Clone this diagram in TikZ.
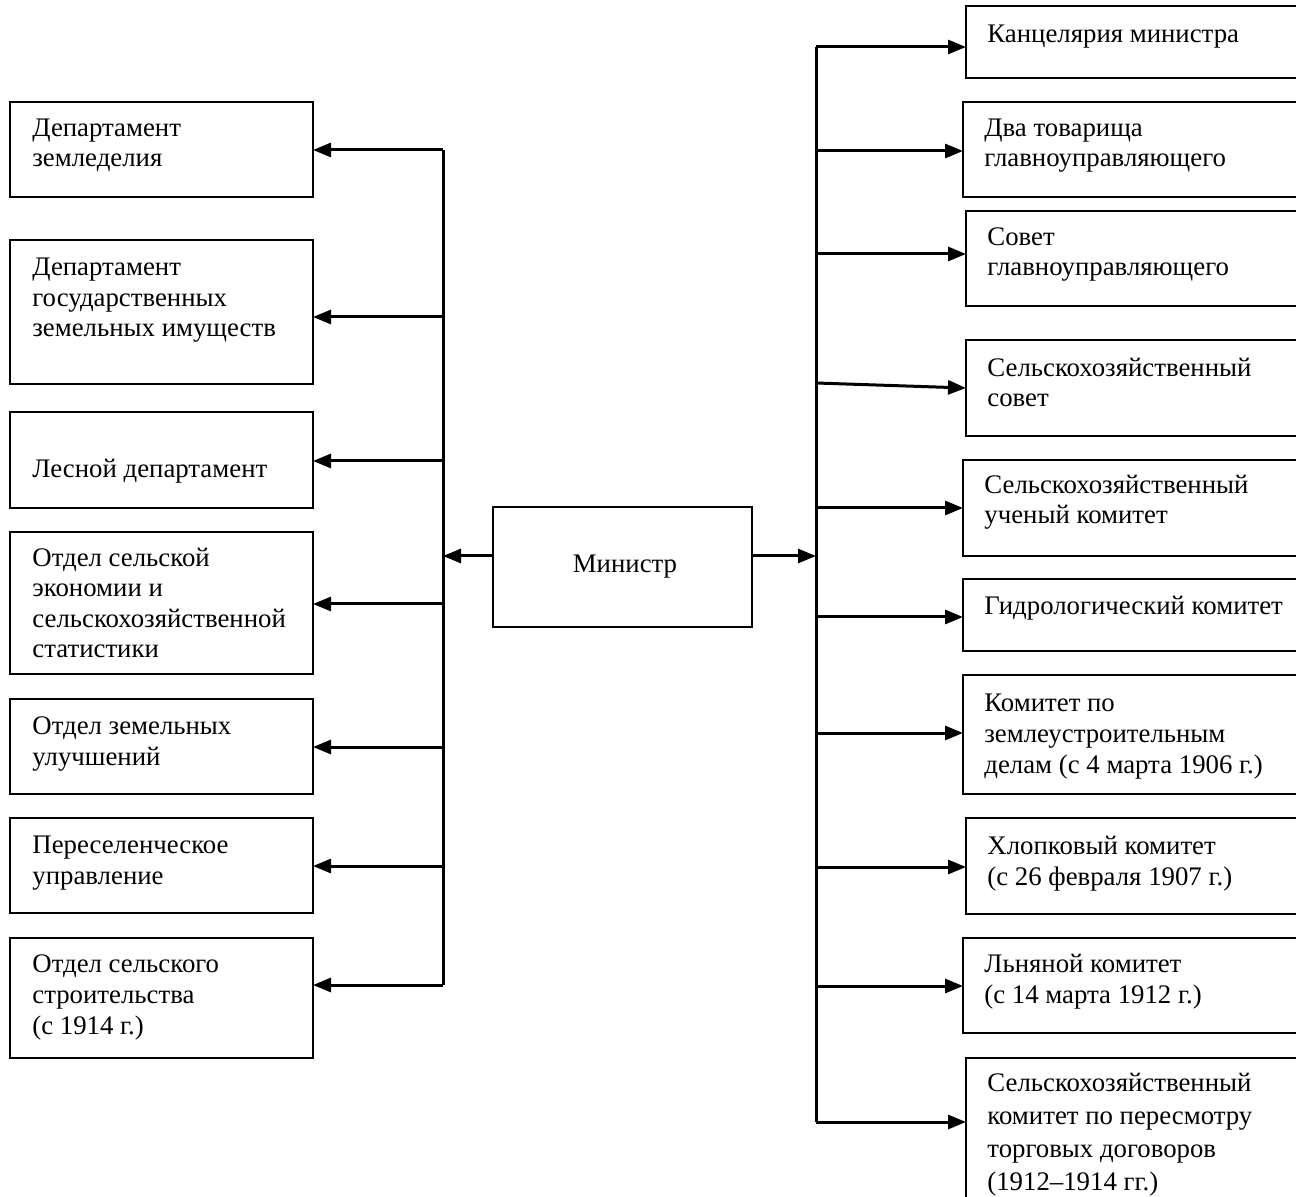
\documentclass[tikz,border=0pt]{standalone}
\usepackage{fontspec}
\setmainfont{Liberation Serif}
\usetikzlibrary{arrows.meta}
\newcommand\orgbox[5]{\node[boxst,anchor=north west,minimum width={(#4-#2)*0.5pt},minimum height={(#5-#3)*0.5pt}] (#1) at (#2,#3) {};}
\begin{document}
\begin{tikzpicture}[x=0.5pt,y=-0.5pt,
  boxst/.style={draw,line width=1.2pt,inner sep=0pt,outer sep=0pt},
  txt/.style={anchor=base west,inner sep=0pt,align=left,font=\fontsize{13.4}{15.3}\selectfont},
  bus/.style={line width=1.5pt},
  arr/.style={line width=1.5pt,-{Triangle[length=9pt,width=7pt]}}]
\useasboundingbox (0,0) rectangle (1296,1197);
\clip (0,0) rectangle (1296,1197);
% left boxes
\orgbox{L1}{10}{102}{313}{197}
\orgbox{L2}{10}{240}{313}{384}
\orgbox{L3}{10}{412}{313}{508}
\orgbox{L4}{10}{532}{313}{674}
\orgbox{L5}{10}{699}{313}{794}
\orgbox{L6}{10}{818}{313}{913}
\orgbox{L7}{10}{938}{313}{1058}
% text nodes: position = baseline of the last line
\node[txt] (tL1) at (32,167) {Департамент\\земледелия};
\node[txt] (tL2) at (32,337) {Департамент\\государственных\\земельных имуществ};
\node[txt] (tL3) at (32,478) {Лесной департамент};
\node[txt] (tL4) at (32,658) {Отдел сельской\\экономии и\\сельскохозяйственной\\статистики};
\node[txt] (tL5) at (32,765) {Отдел земельных\\улучшений};
\node[txt] (tL6) at (32,884) {Переселенческое\\управление};
\node[txt] (tL7) at (32,1034) {Отдел сельского\\строительства\\(с 1914 г.)};
% minister
\orgbox{M}{493}{507}{752}{627}
\node[txt,anchor=base] (tM) at (625,573) {Министр};
% right boxes
\orgbox{R1}{966}{6}{1320}{78}
\orgbox{R2}{963}{102}{1320}{197}
\orgbox{R3}{966}{211}{1320}{306}
\orgbox{R4}{966}{340}{1320}{436}
\orgbox{R5}{963}{460}{1320}{556}
\orgbox{R6}{963}{579}{1320}{651}
\orgbox{R7}{963}{675}{1320}{794}
\orgbox{R8}{966}{818}{1320}{914}
\orgbox{R9}{963}{938}{1320}{1033}
\orgbox{R10}{966}{1058}{1320}{1260}
\node[txt] (tR1) at (987,43) {Канцелярия министра};
\node[txt] (tR2) at (984,167) {Два товарища\\главноуправляющего};
\node[txt] (tR3) at (987,276) {Совет\\главноуправляющего};
\node[txt] (tR4) at (987,407) {Сельскохозяйственный\\совет};
\node[txt] (tR5) at (984,524) {Сельскохозяйственный\\ученый комитет};
\node[txt] (tR6) at (984,615) {Гидрологический комитет};
\node[txt] (tR7) at (984,773) {Комитет по\\землеустроительным\\делам (с 4 марта 1906 г.)};
\node[txt] (tR8) at (987,885) {Хлопковый комитет\\(с 26 февраля 1907 г.)};
\node[txt] (tR9) at (984,1003) {Льняной комитет\\(с 14 марта 1912 г.)};
\node[txt,font=\fontsize{13.4}{16.5}\selectfont] (tR10) at (987,1190) {Сельскохозяйственный\\комитет по пересмотру\\торговых договоров\\(1912–1914 гг.)};
% left bus
\coordinate (lb1) at (443,150);
\coordinate (lb2) at (443,317);
\coordinate (lb3) at (443,461);
\coordinate (lb4) at (443,604);
\coordinate (lb5) at (443,747);
\coordinate (lb6) at (443,866);
\coordinate (lb7) at (443,985);
\coordinate (ml) at (443,556);
\draw[bus] (lb1) -- (lb7);
\foreach \i in {1,...,7} {\draw[arr] (lb\i) -- (lb\i -| L\i.east);}
\draw[arr] (M.west |- ml) -- (ml);
% right bus
\coordinate (rb1) at (816,47);
\coordinate (rb2) at (816,151);
\coordinate (rb3) at (816,254);
\coordinate (rb4) at (816,383);
\coordinate (rb5) at (816,508);
\coordinate (rb6) at (816,617);
\coordinate (rb7) at (816,733);
\coordinate (rb8) at (816,867);
\coordinate (rb9) at (816,986);
\coordinate (rb10) at (816,1122);
\coordinate (mr) at (816,556);
\draw[bus] (rb1) -- (rb10);
\foreach \i in {1,2,3,5,6,7,8,9,10} {\draw[arr] (rb\i) -- (rb\i -| R\i.west);}
\draw[arr] (rb4) -- (R4.west);
\draw[arr] (M.east |- mr) -- (mr);
\end{tikzpicture}
\end{document}
